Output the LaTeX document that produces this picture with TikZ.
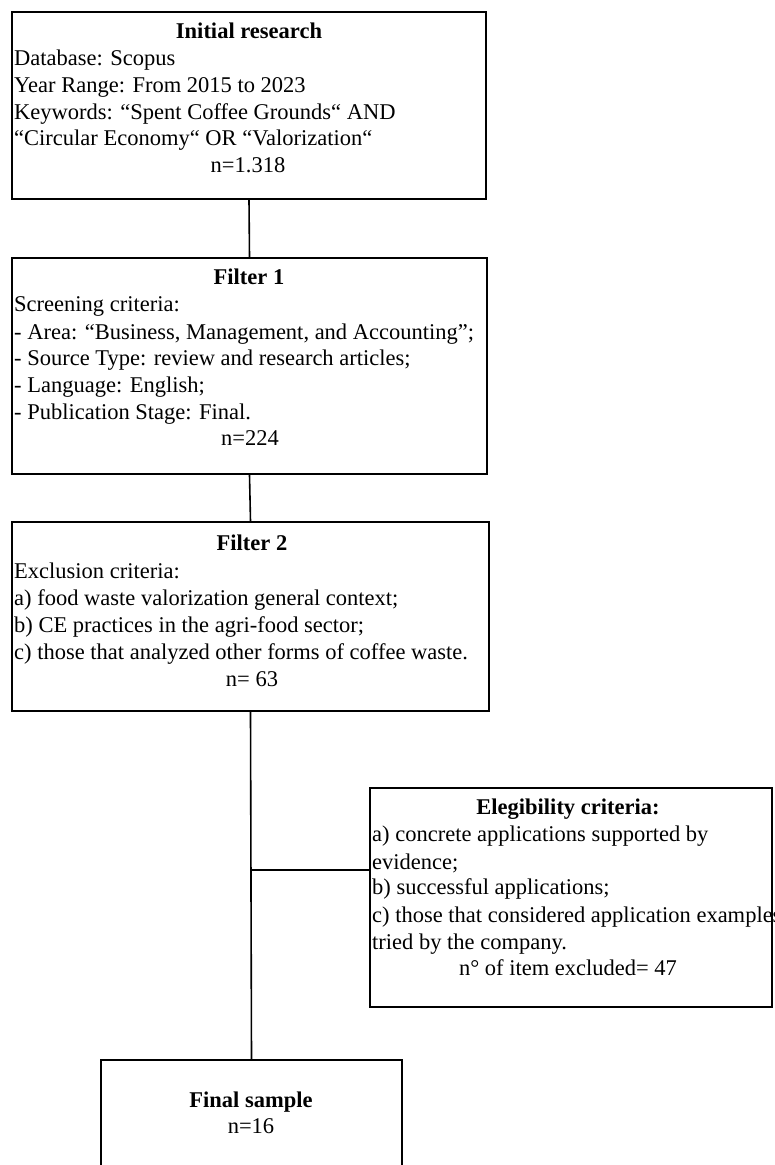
\documentclass[tikz,border=0pt]{standalone}
\usepackage{fontspec}
\setmainfont{Liberation Serif}

\begin{document}
\begin{tikzpicture}[x=1pt, y=-1pt,
  box/.style={draw, line width=1.6pt, inner sep=0pt},
  ttl/.style={font=\fontsize{22.5}{27}\selectfont\bfseries, inner sep=0pt, text height=19.5pt, text depth=2.5pt},
  num/.style={font=\fontsize{22.5}{27}\selectfont, inner sep=0pt, text height=19.5pt, text depth=2.5pt},
  txt/.style={num, anchor=west},
  link/.style={line width=1.6pt}]

\useasboundingbox (0,0) rectangle (774,1165);
\clip (0,0) rectangle (774,1165);

% boxes
\node [box, minimum width=474pt, minimum height=187pt] (init)  at (249, 105.5) {};
\node [box, minimum width=475pt, minimum height=216pt] (filt1) at (249.5, 366) {};
\node [box, minimum width=477pt, minimum height=189pt] (filt2) at (250.5, 616.5) {};
\node [box, minimum width=402pt, minimum height=219pt] (elig)  at (571, 897.5) {};
\node [box, minimum width=301pt, minimum height=140pt] (final) at (251.5, 1130) {};

% Initial research
\node [ttl] (t1) at (249, 30) {Initial research};
\node [txt] (t1a) at (14, 57)  {Database: Scopus};
\node [txt] (t1b) at (14, 84)  {Year Range: From 2015 to 2023};
\node [txt] (t1c) at (14, 111) {Keywords: “Spent Coffee Grounds“ AND};
\node [txt] (t1d) at (14, 137) {“Circular Economy“ OR “Valorization“};
\node [num] (n1)  at (248, 164) {n=1.318};

% Filter 1
\node [ttl] (t2) at (249, 276) {Filter 1};
\node [txt] (t2a) at (14, 303) {Screening criteria:};
\node [txt] (t2b) at (14, 331) {- Area: “Business, Management, and Accounting”;};
\node [txt] (t2c) at (14, 357) {- Source Type: review and research articles;};
\node [txt] (t2d) at (14, 384) {- Language: English;};
\node [txt] (t2e) at (14, 411) {- Publication Stage: Final.};
\node [num] (n2)  at (250, 437) {n=224};

% Filter 2
\node [ttl] (t3) at (252, 542) {Filter 2};
\node [txt] (t3a) at (14, 570) {Exclusion criteria:};
\node [txt] (t3b) at (14, 597) {a) food waste valorization general context;};
\node [txt] (t3c) at (14, 624) {b) CE practices in the agri-food sector;};
\node [txt] (t3d) at (14, 651) {c) those that analyzed other forms of coffee waste.};
\node [num] (n3)  at (252, 678) {n= 63};

% Elegibility criteria
\node [ttl] (t4) at (568, 806) {Elegibility criteria:};
\node [txt] (t4a) at (372, 833) {a) concrete applications supported by};
\node [txt] (t4b) at (372, 861) {evidence;};
\node [txt] (t4c) at (372, 886) {b) successful applications;};
\node [txt] (t4d) at (372, 914) {c) those that considered application examples};
\node [txt] (t4e) at (372, 941) {tried by the company.};
\node [num] (n4)  at (568, 967) {n° of item excluded= 47};

% Final sample
\node [ttl] (t5) at (251, 1099) {Final sample};
\node [num] (n5) at (251, 1125) {n=16};

% connectors
\coordinate (j) at (252, 870);
\draw [link] (init.south) -- (filt1.north);
\draw [link] (filt1.south) -- (filt2.north);
\draw [link] (filt2.south) -- (final.north);
\draw [link] (j) -- (j -| elig.west);

\end{tikzpicture}
\end{document}
